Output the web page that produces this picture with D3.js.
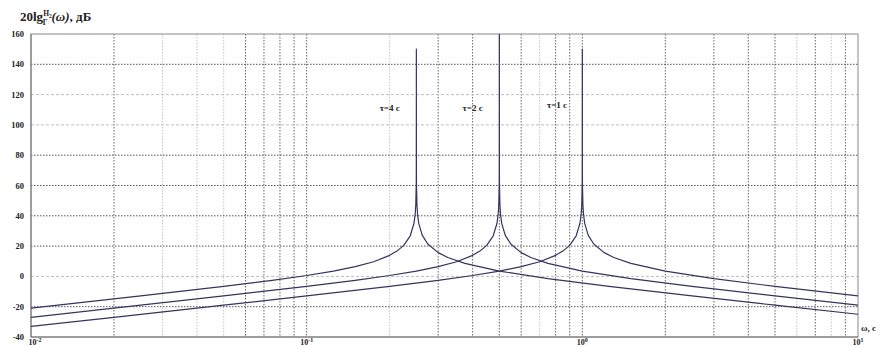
<!DOCTYPE html>
<html><head><meta charset="utf-8">
<script src="https://cdn.jsdelivr.net/npm/d3@7"></script>
<style>
body{margin:0;background:#fff;}
svg{display:block;}
text{font-family:"Liberation Serif","DejaVu Serif",serif;font-weight:bold;fill:#222;}
</style></head><body>
<svg id="c" width="882" height="347"></svg>
<script>
// ---- data ----
const seriesNames = ["τ=4 c", "τ=2 c", "τ=1 c"];
const omegaTau4 = [0.01,0.025,0.05,0.075,0.1,0.125,0.15,0.175,0.2,0.2125,0.225,0.2375,0.245,0.2475,0.24875,0.24975,0.249875,0.2499975,0.25,0.2500025,0.250125,0.25025,0.25125,0.2525,0.255,0.2625,0.275,0.3,0.325,0.375,0.5,0.75,1.25,2.5,5,10];
const dbTau4 = [-20.9,-12.9,-6.6,-2.6,0.6,3.5,6.4,9.7,13.9,16.7,20.5,26.8,34.9,40.9,47.0,61.0,67.0,122,150,122,67.0,61.0,47.0,41.0,35.0,27.2,21.4,15.7,12.5,8.6,3.5,-1.5,-6.6,-12.9,-19.0,-25.0];
const omegaTau2 = [0.01,0.025,0.05,0.1,0.15,0.2,0.25,0.3,0.35,0.4,0.425,0.45,0.475,0.49,0.495,0.4975,0.4995,0.49975,0.499995,0.5,0.500005,0.50025,0.5005,0.5025,0.505,0.51,0.525,0.55,0.6,0.65,0.75,1,1.5,2.5,5,10];
const dbTau2 = [-27.0,-19.0,-12.9,-6.6,-2.6,0.6,3.5,6.4,9.7,13.9,16.7,20.5,26.8,34.9,40.9,47.0,61.0,67.0,122,160,122,67.0,61.0,47.0,41.0,35.0,27.2,21.4,15.7,12.5,8.6,3.5,-1.5,-6.6,-12.9,-19.0];
const omegaTau1 = [0.01,0.02,0.05,0.1,0.2,0.3,0.4,0.5,0.6,0.7,0.8,0.85,0.9,0.95,0.98,0.99,0.995,0.999,0.9995,0.99999,1,1.00001,1.0005,1.001,1.005,1.01,1.02,1.05,1.1,1.2,1.3,1.5,2,3,5,10];
const dbTau1 = [-33.0,-27.0,-19.0,-12.9,-6.6,-2.6,0.6,3.5,6.4,9.7,13.9,16.7,20.5,26.8,34.9,40.9,47.0,61.0,67.0,122,150,122,67.0,61.0,47.0,41.0,35.0,27.2,21.4,15.7,12.5,8.6,3.5,-1.5,-6.6,-12.9];
const labelOmega = [0.2, 0.4, 0.81];
const labelDb = [109, 109, 111];
const yTicks = [-40,-20,0,20,40,60,80,100,120,140,160];
const xDecades = [0.01, 0.1, 1, 10];
const xDecadeExp = ["-2","-1","0","1"];
const lightY = [0, 100, 120];
const lightX = [0.03, 0.04, 0.05, 0.2, 0.7, 6, 8];

// ---- drawing ----
const svg = d3.select("#c");
const L = 31, R = 858, T = 34, B = 337;
const x = d3.scaleLog().domain([0.01, 10]).range([L, R]);
const y = d3.scaleLinear().domain([-40, 160]).range([B, T]);

// vertical grid (minor log ticks)
const vTicks = [];
[0.01, 0.1, 1].forEach(d => { for (let k = 2; k <= 9; k++) vTicks.push(+(d * k).toPrecision(3)); });
[0.1, 1].forEach(d => vTicks.push(d));
const isLightX = v => lightX.some(l => Math.abs(l - v) < 1e-9);
svg.append("g").selectAll("line").data(vTicks).join("line")
  .attr("x1", d => x(d)).attr("x2", d => x(d)).attr("y1", T).attr("y2", B)
  .attr("stroke", d => isLightX(d) ? "#c4c4c4" : "#666")
  .attr("stroke-width", 1).attr("stroke-dasharray", "1.5,1.5");

// horizontal grid
svg.append("g").selectAll("line").data(yTicks.filter(v => v > -40 && v < 160)).join("line")
  .attr("x1", L).attr("x2", R).attr("y1", d => y(d)).attr("y2", d => y(d))
  .attr("stroke", d => lightY.includes(d) ? "#bdbdbd" : "#555")
  .attr("stroke-width", 1).attr("stroke-dasharray", d => lightY.includes(d) ? "3,2" : "1.5,1.5");

// frame
svg.append("rect").attr("x", L).attr("y", T).attr("width", R - L).attr("height", B - T)
  .attr("fill", "none").attr("stroke", "#8a8a8a").attr("stroke-width", 1);
svg.append("line").attr("x1", L).attr("x2", L).attr("y1", T).attr("y2", B).attr("stroke", "#777");
svg.append("line").attr("x1", L).attr("x2", R).attr("y1", B).attr("y2", B).attr("stroke", "#777");

// curves
const series = [
  {om: omegaTau4, db: dbTau4},
  {om: omegaTau2, db: dbTau2},
  {om: omegaTau1, db: dbTau1}
];
const line = d3.line().x(d => x(d[0])).y(d => y(d[1]));
svg.append("defs").append("clipPath").attr("id", "clip")
  .append("rect").attr("x", L).attr("y", T).attr("width", R - L).attr("height", B - T);
const cg = svg.append("g").attr("clip-path", "url(#clip)");
series.forEach(s => {
  const pts = s.om.map((o, i) => [o, s.db[i]]);
  cg.append("path").attr("d", line(pts)).attr("fill", "none")
    .attr("stroke", "#34345e").attr("stroke-width", 1.2).attr("stroke-linejoin", "round");
});

// series labels
seriesNames.forEach((n, i) => {
  svg.append("text").attr("x", x(labelOmega[i])).attr("y", y(labelDb[i]))
    .attr("text-anchor", "middle").attr("font-size", 9).text(n);
});

// y tick labels
svg.append("g").selectAll("text").data(yTicks).join("text")
  .attr("x", 24).attr("y", d => y(d) + 3).attr("text-anchor", "end")
  .attr("font-size", 8.5).text(d => d);

// x tick labels
xDecades.forEach((d, i) => {
  const t = svg.append("text").attr("x", x(d) + (i === 0 ? 4 : 0)).attr("y", 345)
    .attr("text-anchor", "middle").attr("font-size", 8);
  t.append("tspan").text("10");
  t.append("tspan").attr("dy", -3).attr("font-size", 6).text(xDecadeExp[i]);
});

// axis titles
svg.append("text").attr("x", 861).attr("y", 331).attr("font-size", 9).text("ω, c");
const tt = svg.append("text").attr("x", 20).attr("y", 21).attr("font-size", 13);
tt.append("tspan").text("20lg");
tt.append("tspan").attr("font-size", 7.5).attr("dy", -5).text("H");
tt.append("tspan").attr("font-size", 5.5).attr("dy", 1.5).text("2");
tt.append("tspan").attr("font-size", 7.5).attr("dx", -9).attr("dy", 7).text("Г");
tt.append("tspan").attr("dx", 4).attr("dy", -3.5).attr("font-style", "italic").text("(ω)");
tt.append("tspan").text(", дБ");
</script>
</body></html>
